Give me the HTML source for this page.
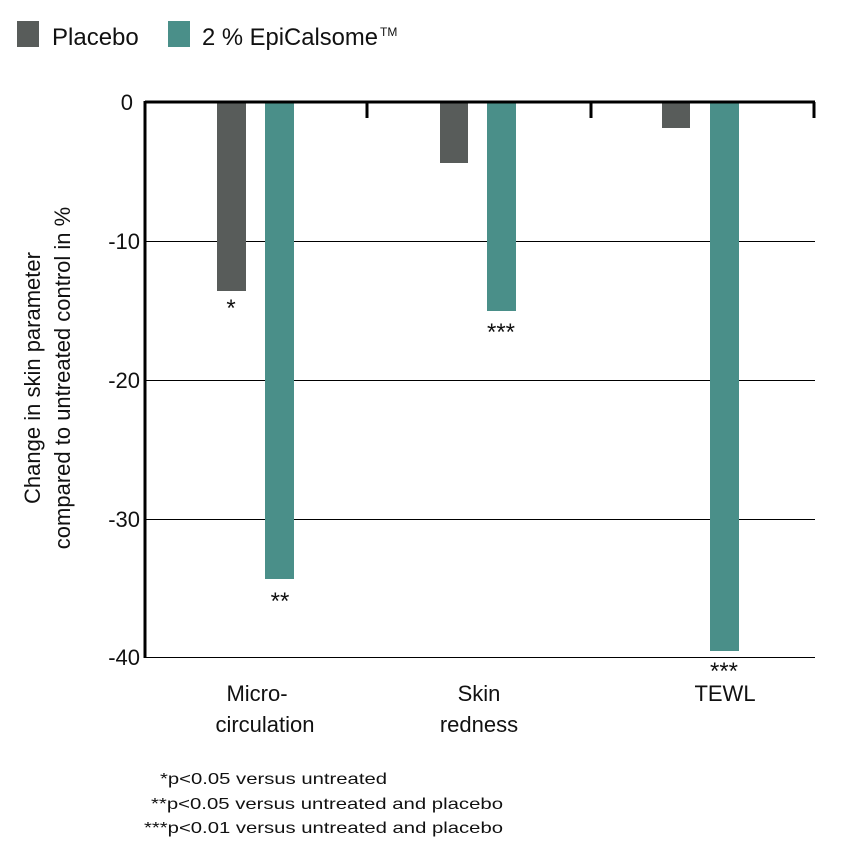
<!DOCTYPE html>
<html><head><style>
body{margin:0;background:#fff;}
svg text{font-family:"Liberation Sans",sans-serif;fill:#111;}
</style></head><body>
<svg width="856" height="849" xmlns="http://www.w3.org/2000/svg">
<rect x="17" y="21" width="22" height="26" fill="#585c5a"/>
<text x="52" y="45" font-size="24">Placebo</text>
<rect x="168" y="21" width="22" height="26" fill="#4a8f89"/>
<text x="202" y="45" font-size="24" textLength="176" lengthAdjust="spacingAndGlyphs">2 % EpiCalsome</text>
<text x="380" y="36" font-size="12">TM</text>
<g stroke="#000" stroke-width="1">
<line x1="145" y1="241.5" x2="815" y2="241.5"/>
<line x1="145" y1="380.5" x2="815" y2="380.5"/>
<line x1="145" y1="519.5" x2="815" y2="519.5"/>
<line x1="145" y1="657.5" x2="815" y2="657.5"/>
</g>
<rect x="217" y="102" width="29" height="189" fill="#585c5a"/>
<rect x="265" y="102" width="29" height="477" fill="#4a8f89"/>
<rect x="440" y="102" width="28" height="61" fill="#585c5a"/>
<rect x="487" y="102" width="29" height="209" fill="#4a8f89"/>
<rect x="662" y="102" width="28" height="26" fill="#585c5a"/>
<rect x="710" y="102" width="29" height="549" fill="#4a8f89"/>
<g stroke="#000" stroke-width="3">
<line x1="145" y1="102" x2="815" y2="102"/>
<line x1="145" y1="101" x2="145" y2="658"/>
<line x1="367" y1="102" x2="367" y2="118"/>
<line x1="591" y1="102" x2="591" y2="118"/>
<line x1="814" y1="102" x2="814" y2="118"/>
</g>
<g font-size="22" text-anchor="end">
<text x="133" y="110">0</text>
<text x="140" y="249">-10</text>
<text x="140" y="388">-20</text>
<text x="140" y="527">-30</text>
<text x="140" y="665">-40</text>
</g>
<g font-size="24" text-anchor="middle">
<text x="231" y="316">*</text>
<text x="280" y="609">**</text>
<text x="501" y="340">***</text>
<text x="724" y="679">***</text>
</g>
<g font-size="22" text-anchor="middle">
<text x="257" y="701">Micro-</text>
<text x="265" y="732">circulation</text>
<text x="479" y="701">Skin</text>
<text x="479" y="732">redness</text>
<text x="725" y="701">TEWL</text>
</g>
<g font-size="22" text-anchor="middle" transform="rotate(-90)">
<text x="-378" y="40">Change in skin parameter</text>
<text x="-378" y="70">compared to untreated control in %</text>
</g>
<g font-size="16">
<text x="160" y="784" textLength="227" lengthAdjust="spacingAndGlyphs">*p&lt;0.05 versus untreated</text>
<text x="151" y="809" textLength="352" lengthAdjust="spacingAndGlyphs">**p&lt;0.05 versus untreated and placebo</text>
<text x="144" y="833" textLength="359" lengthAdjust="spacingAndGlyphs">***p&lt;0.01 versus untreated and placebo</text>
</g>
</svg>
</body></html>
